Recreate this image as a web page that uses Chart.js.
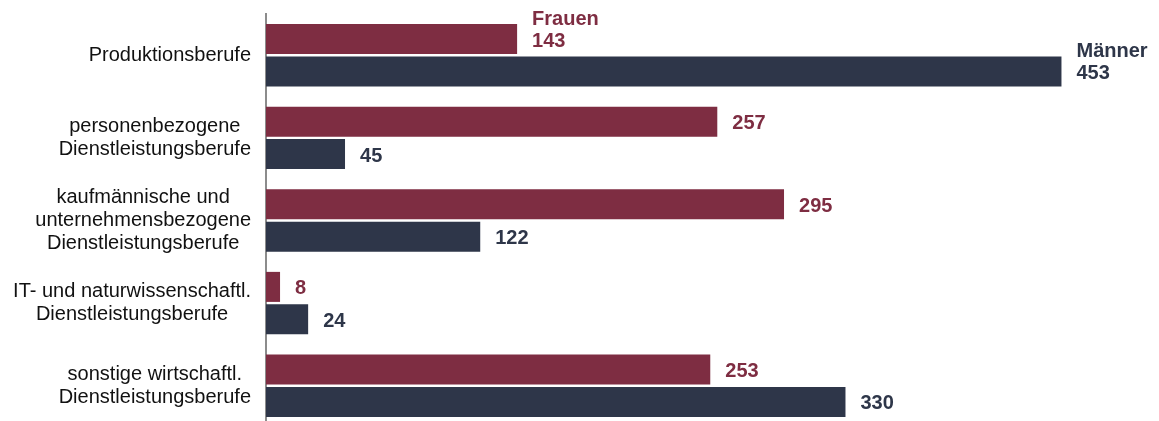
<!DOCTYPE html>
<html>
<head>
<meta charset="utf-8">
<script src="https://cdn.jsdelivr.net/npm/chart.js@4"></script>
<style>
  html, body { margin: 0; padding: 0; background: #fff; overflow: hidden; }
  #wrap { width: 1159px; height: 427px; position: relative; }
</style>
</head>
<body>
<div id="wrap"><canvas id="myChart"></canvas></div>
<script>
const categories = [
  ['Produktionsberufe'],
  ['personenbezogene', 'Dienstleistungsberufe'],
  ['kaufmännische und', 'unternehmensbezogene', 'Dienstleistungsberufe'],
  ['IT- und naturwissenschaftl.', 'Dienstleistungsberufe'],
  ['sonstige wirtschaftl.', 'Dienstleistungsberufe']
];
const seriesNames = ['Frauen', 'Männer'];
const frauen = [143, 257, 295, 8, 253];
const maenner = [453, 45, 122, 24, 330];

const colFrauen = '#7e2d42';
const colMaenner = '#2e3649';
const fontFamily = "'Liberation Sans', Arial, sans-serif";

// category labels: block right aligned, lines centered inside the block
const catLabels = {
  id: 'catLabels',
  afterDraw(chart) {
    const c = chart.ctx;
    const y = chart.scales.y;
    c.save();
    c.font = '20px ' + fontFamily;
    c.fillStyle = '#111';
    c.textBaseline = 'middle';
    c.textAlign = 'center';
    const lh = 23;
    categories.forEach(function(lines, i) {
      let widest = 0;
      lines.forEach(function(l) { widest = Math.max(widest, c.measureText(l).width); });
      const cx = 251 - widest / 2;
      const cy = y.getPixelForValue(i);
      const top = cy - (lines.length - 1) * lh / 2;
      lines.forEach(function(l, j) { c.fillText(l, cx, top + j * lh); });
    });
    c.restore();
  }
};

// value labels at the end of the bars, series name above the first one
const valueLabels = {
  id: 'valueLabels',
  afterDatasetsDraw(chart) {
    const c = chart.ctx;
    c.save();
    c.font = 'bold 20px ' + fontFamily;
    c.textBaseline = 'middle';
    c.textAlign = 'left';
    chart.data.datasets.forEach(function(ds, d) {
      const meta = chart.getDatasetMeta(d);
      c.fillStyle = ds.backgroundColor;
      meta.data.forEach(function(bar, i) {
        c.fillText(String(ds.data[i]), bar.x + 15, bar.y + 2);
        if (i === 0) c.fillText(ds.label, bar.x + 15, bar.y + 2 - 22);
      });
    });
    c.restore();
  }
};

const ctx = document.getElementById('myChart');

var chart = new Chart(ctx, {
  type: 'bar',
  data: {
    labels: categories,
    datasets: [{
      label: seriesNames[0],
      data: frauen,
      backgroundColor: colFrauen,
      barPercentage: 0.926,
      categoryPercentage: 0.785
    },
    {
      label: seriesNames[1],
      data: maenner,
      backgroundColor: colMaenner,
      barPercentage: 0.926,
      categoryPercentage: 0.785
    }]
  },
  options: {
    indexAxis: 'y',
    responsive: true,
    maintainAspectRatio: false,
    animation: false,
    layout: { padding: { top: 14, right: 15, bottom: 0, left: 0 } },
    plugins: {
      legend: { display: false },
      tooltip: { enabled: false }
    },
    scales: {
      x: {
        display: false,
        min: 0,
        max: 500
      },
      y: {
        grid: { display: false },
        border: { display: true, color: '#8c8c8c', width: 2 },
        ticks: { display: false },
        afterFit: function(scale) { scale.width = 266; }
      }
    }
  },
  plugins: [catLabels, valueLabels]
});
</script>
</body>
</html>
